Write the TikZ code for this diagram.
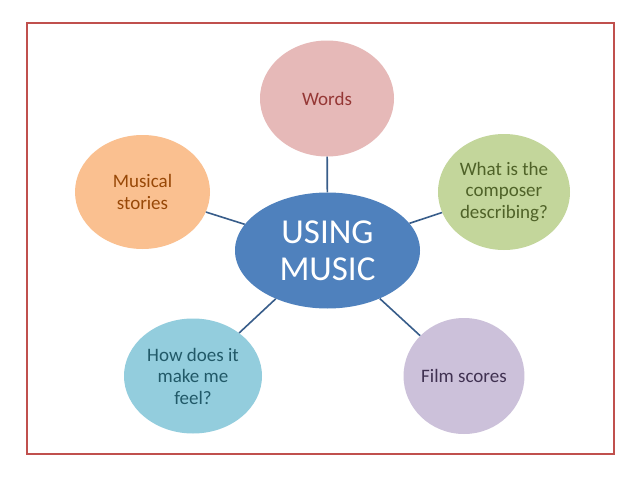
\documentclass[tikz,border=0pt]{standalone}
\usepackage{fontspec}
\setmainfont{Carlito}
\usetikzlibrary{shapes.geometric}
\definecolor{frame}{HTML}{C0504D}
\definecolor{hub}{HTML}{4F81BD}
\definecolor{link}{HTML}{385D8A}
\definecolor{wordsfill}{HTML}{E6B9B8}
\definecolor{wordstext}{HTML}{953735}
\definecolor{storyfill}{HTML}{FAC090}
\definecolor{storytext}{HTML}{984807}
\definecolor{compfill}{HTML}{C3D69B}
\definecolor{comptext}{HTML}{4F6228}
\definecolor{feelfill}{HTML}{93CDDD}
\definecolor{feeltext}{HTML}{215968}
\definecolor{filmfill}{HTML}{CCC1DA}
\definecolor{filmtext}{HTML}{403151}
\tikzset{
  bubble/.style={ellipse, inner sep=0pt, align=center, draw=none,
    font=\fontsize{19}{21.5}\selectfont},
  hubnode/.style={ellipse, inner sep=0pt, align=center, fill=hub, text=white,
    minimum width=185pt, minimum height=116pt, font=\fontsize{35}{37}\selectfont},
  connector/.style={draw=link, line width=1.6pt},
}
\begin{document}
\begin{tikzpicture}[x=1pt,y=-1pt]
\useasboundingbox (0,0) rectangle (638,479);
\fill[white] (0,0) rectangle (638,479);
\draw[frame, line width=1.8pt] (27,23) rectangle (614,454);
\node[hubnode] (hub) at (327.5,250.5) {USING\\MUSIC};
\node[bubble, fill=wordsfill, text=wordstext, minimum width=134pt, minimum height=116pt] (words) at (327,98.5) {Words};
\node[bubble, fill=storyfill, text=storytext, minimum width=135pt, minimum height=114pt] (stories) at (142.5,192) {Musical\\stories};
\node[bubble, fill=compfill, text=comptext, minimum width=132pt, minimum height=116pt] (composer) at (504,192) {What is the\\composer\\describing?};
\node[bubble, fill=feelfill, text=feeltext, minimum width=138pt, minimum height=115pt] (feel) at (193,376) {How does it\\make me\\feel?};
\node[bubble, fill=filmfill, text=filmtext, minimum width=120pt, minimum height=116pt] (film) at (464,376) {Film scores};
\draw[connector] (hub) -- (words);
\draw[connector] (hub) -- (stories);
\draw[connector] (hub) -- (composer);
\draw[connector] (hub) -- (feel);
\draw[connector] (hub) -- (film);
\end{tikzpicture}
\end{document}
